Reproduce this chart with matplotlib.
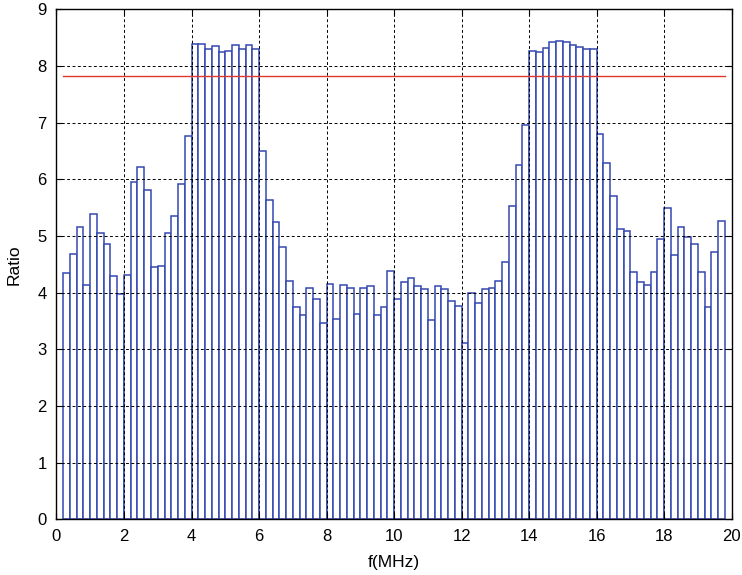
import numpy as np
import matplotlib
matplotlib.use("Agg")
import matplotlib.pyplot as plt

plt.rcParams['font.family'] = ['Liberation Sans', 'DejaVu Sans']

# left edge of each 0.2 MHz bin
bin_width = 0.2
freq_start = np.round(np.arange(0.2, 19.7, bin_width), 1)

ratio = [4.34, 4.68, 5.15, 4.13, 5.39, 5.06, 4.86, 4.29, 3.97, 4.31,
         5.95, 6.21, 5.81, 4.45, 4.47, 5.06, 5.35, 5.92, 6.76, 8.39,
         8.39, 8.29, 8.35, 8.24, 8.26, 8.37, 8.29, 8.37, 8.29, 6.50,
         5.64, 5.25, 4.81, 4.21, 3.74, 3.61, 4.08, 3.89, 3.47, 4.16,
         3.53, 4.13, 4.08, 3.63, 4.08, 4.11, 3.61, 3.74, 4.39, 3.89,
         4.19, 4.26, 4.11, 4.06, 3.51, 4.11, 4.06, 3.85, 3.76, 3.11,
         4.00, 3.82, 4.06, 4.08, 4.21, 4.54, 5.52, 6.25, 6.95, 8.26,
         8.24, 8.32, 8.42, 8.44, 8.42, 8.37, 8.34, 8.29, 8.29, 6.79,
         6.29, 5.71, 5.13, 5.08, 4.36, 4.19, 4.14, 4.36, 4.94, 5.50,
         4.66, 5.16, 4.98, 4.86, 4.36, 3.74, 4.71, 5.26]

threshold = 7.82

x_ticks = [0, 2, 4, 6, 8, 10, 12, 14, 16, 18, 20]
y_ticks = [0, 1, 2, 3, 4, 5, 6, 7, 8, 9]

fig = plt.figure(figsize=(7.42, 5.75), dpi=100)
ax = fig.add_axes([0.0761, 0.0969, 0.910, 0.887])

ax.bar(freq_start, ratio, width=bin_width, align='edge',
       facecolor='white', edgecolor='#3448b0', linewidth=1.1, zorder=2)
ax.plot([freq_start[0], freq_start[-1] + bin_width], [threshold, threshold],
        color='#e0392b', linewidth=1.0, zorder=4)

ax.set_xlim(0, 20)
ax.set_ylim(0, 9)
ax.set_xticks(x_ticks)
ax.set_yticks(y_ticks)
ax.grid(True, color='black', linestyle=(0, (3, 2.5)), linewidth=0.7, zorder=3)
ax.set_axisbelow(False)
ax.tick_params(direction='in', top=True, right=True, length=4, labelsize=12, pad=7)
for s in ax.spines.values():
    s.set_linewidth(1.0)
    s.set_zorder(5)

ax.set_xlabel('f(MHz)', fontsize=12.5, labelpad=8)
ax.set_ylabel('Ratio', fontsize=12.5, labelpad=11)

fig.savefig('out.png', dpi=100)
